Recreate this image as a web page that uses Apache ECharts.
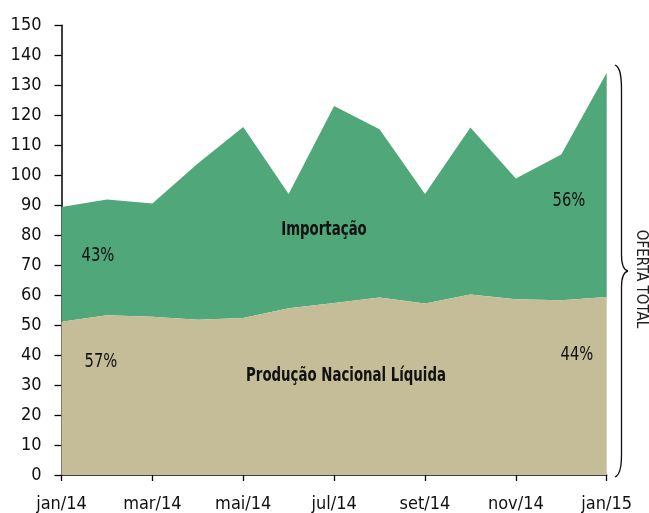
<!DOCTYPE html>
<html>
<head>
<meta charset="utf-8">
<script src="https://cdn.jsdelivr.net/npm/echarts@6/dist/echarts.min.js"></script>
<style>
  html, body { margin: 0; padding: 0; background: #fff; }
  #chart { width: 649px; height: 513px; }
</style>
</head>
<body>
<div id="chart"></div>
<script>
const months = ['jan/14', 'fev/14', 'mar/14', 'abr/14', 'mai/14', 'jun/14', 'jul/14',
  'ago/14', 'set/14', 'out/14', 'nov/14', 'dez/14', 'jan/15']

// Produção Nacional Líquida (base of the stack)
const producao = [51.1, 53.3, 52.8, 51.8, 52.4, 55.6, 57.4, 59.2, 57.2, 60.2, 58.6, 58.3, 59.4]
// Importação (stacked on top)
const importacao = [38.3, 38.6, 37.8, 52.1, 63.7, 38.1, 65.7, 56.1, 36.5, 55.7, 40.3, 48.6, 74.8]

const shareStart = ['43%', '57%']   // importação, produção at jan/14
const shareEnd = ['56%', '44%']     // importação, produção at jan/15

const font = '"Liberation Sans Narrow", "DejaVu Sans Condensed", sans-serif'
const green = '#4fa77a'
const beige = '#c4bd98'

const chart = echarts.init(document.getElementById('chart'))

// reference uses a narrow face, so squeeze the annotation texts a bit
const note = (x, y, text, bold) => ({
  type: 'text',
  x, y,
  scaleX: bold ? 0.78 : 0.82,
  z: 10,
  style: {
    text,
    fontFamily: font,
    fontSize: bold ? 19 : 20,
    fontWeight: bold ? 'bold' : 'normal',
    fill: '#111',
    align: 'center',
    verticalAlign: 'middle'
  }
})

const braceStyle = { fill: 'none', stroke: '#111', lineWidth: 1.3 }
const curve = (x1, y1, cx1, cy1, cx2, cy2, x2, y2) => ({
  type: 'bezierCurve',
  shape: { x1, y1, cpx1: cx1, cpy1: cy1, cpx2: cx2, cpy2: cy2, x2, y2 },
  style: braceStyle,
  z: 10
})
const seg = (x1, y1, x2, y2) => ({
  type: 'line', shape: { x1, y1, x2, y2 }, style: braceStyle, z: 10
})

chart.setOption({
  animation: false,
  textStyle: { fontFamily: font },
  grid: { left: 61.5, right: 42.3, top: 25.3, bottom: 38, containLabel: false },
  xAxis: {
    type: 'category',
    data: months,
    boundaryGap: false,
    axisLine: { lineStyle: { color: '#000', width: 1.5 } },
    axisTick: { interval: 1, length: 6, lineStyle: { color: '#000', width: 1.3 } },
    axisLabel: { interval: 1, color: '#111', fontSize: 18, margin: 20, fontFamily: font },
    splitLine: { show: false }
  },
  yAxis: {
    type: 'value',
    min: 0,
    max: 150,
    interval: 10,
    axisLine: { show: true, lineStyle: { color: '#000', width: 1.5 } },
    axisTick: { show: true, length: 7, lineStyle: { color: '#000', width: 1.3 } },
    axisLabel: { color: '#111', fontSize: 18, margin: 20, fontFamily: font },
    splitLine: { show: false }
  },
  series: [
    {
      name: 'Produção Nacional Líquida',
      type: 'line',
      stack: 'oferta',
      data: producao,
      symbol: 'none',
      lineStyle: { width: 0 },
      areaStyle: { color: beige, opacity: 1 },
      z: 2
    },
    {
      name: 'Importação',
      type: 'line',
      stack: 'oferta',
      data: importacao,
      symbol: 'none',
      lineStyle: { width: 0 },
      areaStyle: { color: green, opacity: 1 },
      z: 1
    }
  ],
  graphic: [
    note(98, 256, shareStart[0]),
    note(101, 362, shareStart[1]),
    note(569, 201, shareEnd[0]),
    note(577, 355, shareEnd[1]),
    note(324, 230, 'Importação', true),
    note(346, 376, 'Produção Nacional Líquida', true),
    // curly brace for "oferta total"
    curve(615, 65, 620, 67, 621.5, 75, 621.5, 90),
    seg(621.5, 90, 621.5, 255),
    curve(621.5, 255, 621.5, 265, 624, 270, 628, 271),
    curve(628, 271, 624, 272, 621.5, 277, 621.5, 287),
    seg(621.5, 287, 621.5, 455),
    curve(621.5, 455, 621.5, 468, 620, 475, 615, 477),
    {
      type: 'text',
      x: 641,
      y: 279,
      rotation: -Math.PI / 2,
      style: {
        text: 'OFERTA TOTAL',
        fontFamily: font,
        fontSize: 15,
        fill: '#222',
        align: 'center',
        verticalAlign: 'middle'
      },
      z: 10
    }
  ]
})
</script>
</body>
</html>
